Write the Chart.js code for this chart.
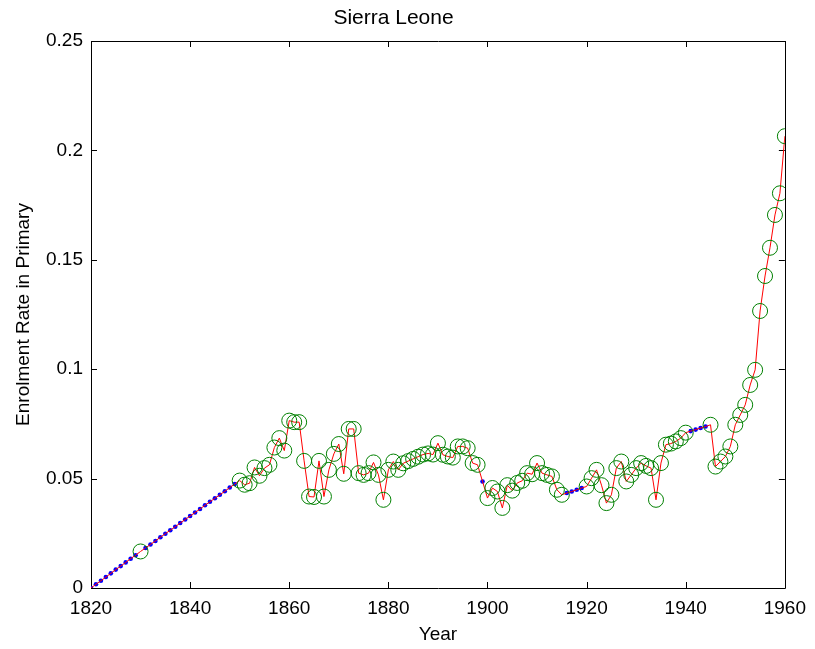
<!DOCTYPE html>
<html>
<head>
<meta charset="utf-8">
<script src="https://cdn.jsdelivr.net/npm/chart.js@4"></script>
<style>
  body { margin: 0; background: #fff; }
  #wrap { width: 815px; height: 649px; position: relative; }
</style>
</head>
<body>
<div id="wrap"><canvas id="mychart"></canvas></div>
<script>
// observed years (green circles)
const obsYears = [1830,
  1850, 1851, 1852, 1853, 1854, 1855, 1856, 1857, 1858, 1859,
  1860, 1861, 1862, 1863, 1864, 1865, 1866, 1867, 1868, 1869,
  1870, 1871, 1872, 1873, 1874, 1875, 1876, 1877, 1878, 1879,
  1880, 1881, 1882, 1883, 1884, 1885, 1886, 1887, 1888, 1889,
  1890, 1891, 1892, 1893, 1894, 1895, 1896, 1897, 1898,
  1900, 1901, 1902, 1903, 1904, 1905, 1906, 1907, 1908, 1909,
  1910, 1911, 1912, 1913, 1914, 1915,
  1920, 1921, 1922, 1923, 1924, 1925, 1926, 1927, 1928, 1929,
  1930, 1931, 1932, 1933, 1934, 1935, 1936, 1937, 1938, 1939, 1940,
  1945, 1946, 1947, 1948, 1949,
  1950, 1951, 1952, 1953, 1954, 1955, 1956, 1957, 1958, 1959, 1960];
const obsRates = [0.0167,
  0.0491, 0.0472, 0.0479, 0.0551, 0.0513, 0.0548, 0.0563, 0.0642, 0.0685, 0.0628,
  0.0765, 0.0758, 0.0758, 0.0581, 0.0418, 0.0416, 0.0581, 0.0418, 0.0540, 0.0613,
  0.0658, 0.0522, 0.0727, 0.0727, 0.0525, 0.0517, 0.0525, 0.0574, 0.0517, 0.0403,
  0.0540, 0.0578, 0.0540, 0.0570, 0.0580, 0.0590, 0.0600, 0.0610, 0.0615, 0.0610,
  0.0662, 0.0609, 0.0601, 0.0596, 0.0647, 0.0647, 0.0639, 0.0571, 0.0563,
  0.0411, 0.0457, 0.0441, 0.0366, 0.0470, 0.0445, 0.0480, 0.0490, 0.0525, 0.0520,
  0.0571, 0.0525, 0.0517, 0.0510, 0.0449, 0.0426,
  0.0464, 0.0502, 0.0540, 0.0470, 0.0388, 0.0426, 0.0548, 0.0578, 0.0487, 0.0517,
  0.0548, 0.0571, 0.0558, 0.0548, 0.0403, 0.0571, 0.0655, 0.0660, 0.0670, 0.0685, 0.0710,
  0.0746, 0.0555, 0.0578, 0.0601, 0.0647,
  0.0746, 0.0791, 0.0837, 0.0928, 0.0997, 0.1266, 0.1426, 0.1555, 0.1705, 0.1804, 0.2065];

// filled-in years (blue dots)
const estYears = [1820, 1821, 1822, 1823, 1824, 1825, 1826, 1827, 1828, 1829,
  1831, 1832, 1833, 1834, 1835, 1836, 1837, 1838, 1839, 1840,
  1841, 1842, 1843, 1844, 1845, 1846, 1847, 1848, 1849,
  1899, 1916, 1917, 1918, 1919, 1941, 1942, 1943, 1944];
const estRates = [0, 0.0017, 0.0033, 0.0050, 0.0067, 0.0084, 0.0100, 0.0117, 0.0134, 0.0150,
  0.0183, 0.0199, 0.0215, 0.0232, 0.0248, 0.0264, 0.0280, 0.0297, 0.0313, 0.0329,
  0.0345, 0.0361, 0.0378, 0.0394, 0.0410, 0.0426, 0.0442, 0.0459, 0.0475,
  0.0487, 0.0434, 0.0441, 0.0449, 0.0457, 0.0717, 0.0724, 0.0731, 0.0738];

const xTicks = [1820, 1840, 1860, 1880, 1900, 1920, 1940, 1960];
const yTicks = [0, 0.05, 0.1, 0.15, 0.2, 0.25];
const yTickLabels = ['0', '0.05', '0.1', '0.15', '0.2', '0.25'];

const toPts = (xs, ys) => xs.map((x, i) => ({ x: x, y: ys[i] }));
const obsPts = toPts(obsYears, obsRates);
const estPts = toPts(estYears, estRates);
const allPts = obsPts.concat(estPts).sort((a, b) => a.x - b.x);

const FONT = 'Liberation Sans, Arial, Helvetica, sans-serif';

// matlab style box with inward ticks
const boxTicks = {
    id: 'boxTicks',
    beforeDatasetsDraw(chart) {
        const { ctx, chartArea: a, scales } = chart;
        const len = 6;
        ctx.save();
        ctx.strokeStyle = '#000';
        ctx.lineWidth = 1;
        ctx.beginPath();
        ctx.rect(Math.round(a.left) + 0.5, Math.round(a.top) + 0.5,
                 Math.round(a.right - a.left), Math.round(a.bottom - a.top));
        xTicks.forEach(v => {
            const px = Math.round(scales.x.getPixelForValue(v)) + 0.5;
            ctx.moveTo(px, a.bottom); ctx.lineTo(px, a.bottom - len);
            ctx.moveTo(px, a.top); ctx.lineTo(px, a.top + len);
        });
        yTicks.forEach(v => {
            const py = Math.round(scales.y.getPixelForValue(v)) + 0.5;
            ctx.moveTo(a.left, py); ctx.lineTo(a.left + len, py);
            ctx.moveTo(a.right, py); ctx.lineTo(a.right - len, py);
        });
        ctx.stroke();
        ctx.restore();
    }
};

const ctx = document.getElementById('mychart').getContext('2d');
let myChart = new Chart(ctx, {
    type: 'scatter',
    data: {
        datasets: [
            {
                label: 'observed',
                data: obsPts,
                showLine: false,
                pointStyle: 'circle',
                pointRadius: 7.5,
                pointBorderWidth: 1,
                pointBorderColor: '#008000',
                pointBackgroundColor: 'rgba(0,0,0,0)',
                order: 1
            },
            {
                label: 'line',
                data: allPts,
                showLine: true,
                borderColor: '#ff0000',
                borderWidth: 1,
                pointRadius: 0,
                tension: 0,
                order: 2
            },
            {
                label: 'filled',
                data: estPts,
                showLine: false,
                pointRadius: 2.3,
                pointBorderWidth: 0,
                pointBackgroundColor: '#0000ff',
                order: 3
            }
        ]
    },
    options: {
        responsive: true,
        maintainAspectRatio: false,
        animation: false,
        layout: { padding: { left: 0, right: 28, top: 0, bottom: 0 } },
        plugins: {
            legend: { display: false },
            tooltip: { enabled: false },
            title: {
                display: true,
                text: 'Sierra Leone',
                color: '#000',
                font: { family: FONT, size: 21, weight: 'normal' },
                padding: { top: 6, bottom: 9.8 }
            }
        },
        scales: {
            x: {
                type: 'linear',
                min: 1820,
                max: 1960,
                grid: { display: false, drawTicks: false },
                border: { display: false },
                afterBuildTicks: s => { s.ticks = xTicks.map(v => ({ value: v })); },
                afterFit: s => { s.height = 61; },
                ticks: {
                    color: '#000',
                    padding: 9,
                    maxRotation: 0,
                    font: { family: FONT, size: 19 },
                    callback: v => String(v)
                },
                title: {
                    display: true,
                    text: 'Year',
                    color: '#000',
                    font: { family: FONT, size: 19 },
                    padding: { top: 0, bottom: 3 }
                }
            },
            y: {
                type: 'linear',
                min: 0,
                max: 0.25,
                grid: { display: false, drawTicks: false },
                border: { display: false },
                afterBuildTicks: s => { s.ticks = yTicks.map(v => ({ value: v })); },
                afterFit: s => { s.width = 91; },
                ticks: {
                    color: '#000',
                    padding: 8,
                    font: { family: FONT, size: 19 },
                    callback: (v, i) => yTickLabels[i]
                },
                title: {
                    display: true,
                    text: 'Enrolment Rate in Primary',
                    color: '#000',
                    font: { family: FONT, size: 19 },
                    padding: { top: 12, bottom: 0 }
                }
            }
        }
    },
    plugins: [boxTicks]
});
</script>
</body>
</html>
